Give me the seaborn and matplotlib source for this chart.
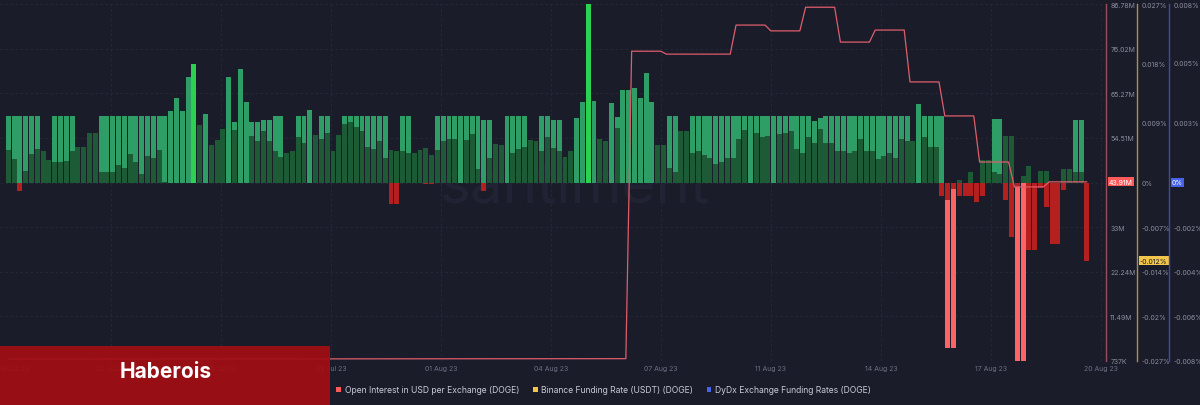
import numpy as np
import pandas as pd
import matplotlib
matplotlib.use("Agg")
import matplotlib.pyplot as plt
import matplotlib.transforms as mtransforms
from matplotlib.patches import Patch, Rectangle
import seaborn as sns

sns.set_theme(style="dark")
plt.rcParams['font.family'] = ['Inter', 'DejaVu Sans']

# funding rates in %, one value per 4h bar (19 Jul 23 -> 20 Aug 23)
binance_rate = [
    0.010, 0.010, 0.010, 0.010, 0.010, 0.010, 0.0, 0.0, 0.010, 0.010,
    0.010, 0.010, 0.0, 0.0, 0.0, 0.0, 0.010, 0.010, 0.010, 0.010,
    0.010, 0.010, 0.010, 0.010, 0.010, 0.010, 0.010, 0.010, 0.0108, 0.0128,
    0.0108, 0.0159, 0.0180, 0.0, 0.0103, 0.0, 0.0, 0.0, 0.0160, 0.0091,
    0.0172, 0.0122, 0.0091, 0.0091, 0.0094, 0.0094, 0.010, 0.010, 0.0, 0.0,
    0.010, 0.010, 0.0109, 0.0, 0.010, 0.010, 0.0, 0.0, 0.010, 0.010,
    0.010, 0.010, 0.010, 0.010, 0.010, 0.010, -0.0033, -0.0033, 0.010, 0.010,
    0.0, 0.0, -0.0003, -0.0003, 0.010, 0.010, 0.010, 0.010, 0.010, 0.010,
    0.010, 0.010, 0.0094, 0.0094, 0.0, 0.0, 0.010, 0.010, 0.010, 0.010,
    0.0, 0.0, 0.010, 0.010, 0.0094, 0.0094, 0.0, 0.0, 0.0097, 0.0122,
    0.027, 0.0124, 0.0, 0.0, 0.0121, 0.0099, 0.0140, 0.0140, 0.0143, 0.0128,
    0.0166, 0.0122, 0.0, 0.0, 0.010, 0.010, 0.0, 0.0, 0.010, 0.010,
    0.010, 0.010, 0.010, 0.010, 0.010, 0.010, 0.010, 0.010, 0.010, 0.010,
    0.010, 0.010, 0.010, 0.0101, 0.010, 0.010, 0.010, 0.010, 0.010, 0.0093,
    0.0098, 0.010, 0.010, 0.010, 0.010, 0.010, 0.010, 0.010, 0.010, 0.010,
    0.010, 0.010, 0.010, 0.010, 0.010, 0.010, 0.0, 0.0118, 0.010, 0.010,
    0.010, 0.010, -0.025, -0.025, -0.002, -0.002, -0.002, -0.003, -0.002, 0.0,
    0.0096, 0.0096, -0.0026, -0.0083, -0.027, -0.027, -0.0102, -0.0102, -0.0008, -0.0037,
    -0.0093, -0.0093, -0.0012, 0.0, 0.0095, 0.0095, -0.0118,
]
dydx_rate = [
    0.00145, 0.00105, -0.0004, 0.00052, 0.00127, 0.0015, 0.00139, 0.0010, 0.00093, 0.00093,
    0.00097, 0.00142, 0.00157, 0.00157, 0.00224, 0.00224, 0.00049, 0.00045, 0.00045, 0.00078,
    0.00063, 0.00127, 0.0009, 0.0004, 0.0012, 0.00109, 0.00145, 0.00003, 0.0, 0.0,
    0.0, 0.0, 0.0, 0.00258, 0.0, 0.00169, 0.0019, 0.00239, 0.0, 0.00235,
    0.0, 0.0, 0.00209, 0.00184, 0.00229, 0.00184, 0.00139, 0.00115, 0.00133, 0.00142,
    0.00202, 0.00175, 0.0, 0.00212, 0.00194, 0.00224, 0.00142, 0.00212, 0.00261, 0.00269,
    0.0025, 0.00229, 0.00157, 0.00152, 0.00184, 0.00112, 0.00145, 0.00139, 0.00139, 0.00131,
    0.00131, 0.00145, 0.00154, 0.00124, 0.00145, 0.00187, 0.00194, 0.00197, 0.0, 0.0019,
    0.00217, 0.0006, -0.00036, 0.00109, 0.00172, 0.00169, 0.0, 0.00134, 0.0015, 0.00157,
    0.0019, 0.00184, 0.00142, 0.00202, 0.00154, 0.00139, 0.00115, 0.00142, 0.0, 0.0,
    0.0, 0.0, 0.00194, 0.00187, 0.0, 0.00244, 0.0, 0.0, 0.0, 0.0,
    0.0, 0.0, 0.00169, 0.00169, 0.00063, 0.00045, 0.00232, 0.00232, 0.0013, 0.00142,
    0.00123, 0.00109, 0.00085, 0.00094, 0.00112, 0.00112, 0.00194, 0.00235, 0.0, 0.00224,
    0.00202, 0.00209, 0.0, 0.00217, 0.0022, 0.00229, 0.0015, 0.00134, 0.00202, 0.00175,
    0.00239, 0.00175, 0.00179, 0.00142, 0.00142, 0.00131, 0.00142, 0.00194, 0.00142, 0.00142,
    0.00105, 0.0012, 0.00134, 0.00112, 0.00194, 0.00184, 0.00184, 0.0, 0.00205, 0.00157,
    0.0016, -0.0006, -0.0008, -0.0003, 0.00013, 0.0, 0.00045, 0.0, 0.001, 0.001,
    0.00045, 0.0004, 0.0021, 0.0021, -0.0002, 0.0003, 0.00075, 0.0, 0.0005, 0.0005,
    0.0, 0.0, 0.0006, 0.0006, 0.00045, 0.00045, 0.0,
]

# open interest (million USD) at bar positions where the line turns
oi_t = [0, 106.5, 107.5, 112.5, 113.5, 124.5, 125.5, 130.5, 131.5, 136.5,
        137.5, 142.5, 143.5, 148.5, 149.5, 154.5, 155.5, 160.5, 161.5, 166.5,
        167.5, 172.5, 173.5, 178.5, 179.5, 186]
oi_musd = [1.2, 1.3, 75.4, 75.4, 74.7, 74.7, 81.7, 81.7, 80.3, 80.3,
           86.0, 86.0, 77.6, 77.6, 80.5, 80.5, 68.0, 68.0, 59.8, 59.8,
           48.7, 48.7, 42.7, 42.7, 43.91, 43.91]

oi_ticks = [0.737, 11.49, 22.24, 33.0, 43.76, 54.51, 65.27, 76.02, 86.78]
oi_tick_labels = ['737K', '11.49M', '22.24M', '33M', '', '54.51M', '65.27M', '76.02M', '86.78M']
binance_ticks = [0.027, 0.018, 0.009, 0.0, -0.00675, -0.0135, -0.02025, -0.027]
binance_tick_labels = ['0.027%', '0.018%', '0.009%', '0%', '-0.007%', '-0.014%', '-0.02%', '-0.027%']
dydx_ticks = [0.008, 0.0054, 0.0027, 0.0, -0.002, -0.004, -0.006, -0.008]
dydx_tick_labels = ['0.008%', '0.005%', '0.003%', '', '-0.002%', '-0.004%', '-0.006%', '-0.008%']

date_ticks = [1.15, 17.7, 36.7, 55.7, 74.6, 93.6, 112.6, 131.5, 150.5, 169.5, 188.5]
date_labels = ['19 Jul 23', '22 Jul 23', '25 Jul 23', '29 Jul 23', '01 Aug 23', '04 Aug 23',
               '07 Aug 23', '11 Aug 23', '14 Aug 23', '17 Aug 23', '20 Aug 23']

legend_labels = ['Open Interest in USD per Exchange (DOGE)',
                 'Binance Funding Rate (USDT) (DOGE)',
                 'DyDx Exchange Funding Rates (DOGE)']

# colours
BG = '#1b1c2a'
GRID = '#282a3a'
TICK = '#8a8d9e'
OI_RED = '#de5d6b'
RED_AX = '#9a4c5c'
YEL_AX = '#a8924a'
BLUE_AX = '#3e4fa2'
GREEN_MID = '#2e9e66'
GREEN_HI = '#2dd152'
GREEN_DARK = '#1c5b36'
RED_DARK = '#b42020'
SALMON = '#ff6464'


def binance_color(v):
    if v >= 0.0175:
        return GREEN_HI
    if v >= 0:
        return GREEN_MID
    if v <= -0.02:
        return SALMON
    return RED_DARK


def dydx_color(v):
    return GREEN_DARK if v >= 0 else RED_DARK


W, H = 1200, 406
fig = plt.figure(figsize=(W / 100, H / 100), dpi=100, facecolor=BG)
ax = fig.add_axes([0, 44 / H, 1106 / W, 357 / H])
ax_b = ax.twinx()
ax_d = ax.twinx()
ax_b.set_zorder(1)
ax_d.set_zorder(2)
ax.set_zorder(3)
ax.patch.set_visible(False)

t = np.arange(len(binance_rate))
df = pd.DataFrame({'t': t, 'binance': binance_rate, 'dydx': dydx_rate})

# grid + watermark at the very back
ax_b.hlines(np.linspace(0, 1, 9), 0, 1, transform=ax_b.transAxes,
            colors=GRID, linestyles=(0, (3, 3)), lw=0.6, zorder=0)
ax_b.vlines(date_ticks[1:], 0, 1, transform=ax_b.get_xaxis_transform(),
            colors=GRID, linestyles=(0, (3, 3)), lw=0.6, zorder=0)
ax_b.text(0.52, 0.49, 'santiment', transform=ax_b.transAxes, ha='center', va='center',
          fontsize=42, color='#212233', zorder=0)

sns.barplot(data=df, x='t', y='binance', native_scale=True, width=0.85,
            color=GREEN_MID, errorbar=None, ax=ax_b)
for bar, v in zip(ax_b.patches, df['binance']):
    bar.set_facecolor(binance_color(v))
    bar.set_edgecolor('none')

sns.barplot(data=df, x='t', y='dydx', native_scale=True, width=0.85,
            color=GREEN_DARK, errorbar=None, ax=ax_d)
for bar, v in zip(ax_d.patches, df['dydx']):
    bar.set_facecolor(dydx_color(v))
    bar.set_edgecolor('none')

sns.lineplot(x=oi_t, y=oi_musd, color=OI_RED, lw=0.9, ax=ax)

ax.set_xlim(-1.43, 189.3)
ax.set_ylim(0.737, 86.78)
ax_b.set_ylim(-0.027, 0.027)
ax_d.set_ylim(-0.008, 0.008)

for a in (ax, ax_b, ax_d):
    a.set_xlabel('')
    a.set_ylabel('')
    for s in ('top', 'left', 'bottom'):
        a.spines[s].set_visible(False)
    a.grid(False)

ax.yaxis.tick_right()
ax.spines['right'].set_color(RED_AX)
ax_b.spines['right'].set_color(YEL_AX)
ax_b.spines['right'].set_position(('axes', 1137 / 1106))
ax_d.spines['right'].set_color(BLUE_AX)
ax_d.spines['right'].set_position(('axes', 1169 / 1106))
for a in (ax, ax_b, ax_d):
    a.spines['right'].set_linewidth(1.0)

ax.set_yticks(oi_ticks)
ax.set_yticklabels(oi_tick_labels)
ax_b.set_yticks(binance_ticks)
ax_b.set_yticklabels(binance_tick_labels)
ax_d.set_yticks(dydx_ticks)
ax_d.set_yticklabels(dydx_tick_labels)
for a in (ax, ax_b, ax_d):
    a.tick_params(axis='y', length=0, pad=3, labelsize=5, labelcolor=TICK)

ax.set_xticks(date_ticks)
ax.set_xticklabels(date_labels)
ax.tick_params(axis='x', length=0, pad=3, labelsize=5, labelcolor='#6d7083')

# current value badges on each axis
def badge(a, xfrac, y, text, fc, tc):
    tr = mtransforms.blended_transform_factory(a.transAxes, a.transData)
    a.text(xfrac, y, text, transform=tr, ha='left', va='center', fontsize=5, color=tc,
           clip_on=False, zorder=20,
           bbox=dict(boxstyle='square,pad=0.2', fc=fc, ec='none'))

badge(ax, 1109 / 1106, oi_musd[-1], f'{oi_musd[-1]:.2f}M', '#ff5a5a', 'white')
badge(ax_b, 1140 / 1106, binance_rate[-1], f'{binance_rate[-1]:.3f}%', '#f2c64a', '#1b1c2a')
badge(ax_d, 1172 / 1106, dydx_rate[-1], f'{dydx_rate[-1]:.0f}%', '#4763ea', 'white')

handles = [Patch(fc=c, ec='none') for c in ('#ff5a5a', '#f2c64a', '#4763ea')]
fig.legend(handles, legend_labels, loc='center', bbox_to_anchor=(0.503, 15 / H), ncol=3,
           frameon=False, fontsize=6.2, handlelength=0.55, handleheight=0.55,
           handletextpad=0.4, columnspacing=1.6, labelcolor='#c8cad6')

# site banner bottom left
fig.add_artist(Rectangle((0, 0), 330 / W, 59 / H, transform=fig.transFigure,
                         fc='#a10f14', ec='none', alpha=0.93, zorder=30))
fig.text(166 / W, 1 - 372 / H, 'Haberois', ha='center', va='center', fontsize=15,
         fontweight='bold', color='white', zorder=31)

fig.savefig('out.png', dpi=100, facecolor=BG)
